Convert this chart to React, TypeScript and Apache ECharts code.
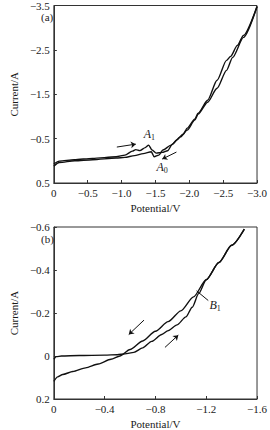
import React, { useEffect, useRef } from "react";
import * as echarts from "echarts";

// Panel (a): potential (V) and current (A)
const potA_fwd = [0, -0.08, -0.3, -0.57, -0.92, -1.05, -1.16, -1.21, -1.27, -1.35, -1.4, -1.45, -1.51, -1.6, -1.68, -1.75, -1.81, -1.91, -1.97, -2.08, -2.13, -2.27, -2.41, -2.55, -2.61, -2.71, -2.8, -3.0];
const curA_fwd = [0.07, 0.006, -0.024, -0.055, -0.091, -0.129, -0.219, -0.253, -0.23, -0.298, -0.354, -0.242, -0.174, -0.19, -0.226, -0.376, -0.466, -0.601, -0.736, -0.938, -1.073, -1.365, -1.815, -2.264, -2.354, -2.601, -2.826, -3.478];
const potA_rev = [0, -0.08, -0.31, -0.57, -0.92, -1.05, -1.19, -1.32, -1.44, -1.48, -1.55, -1.61, -1.73, -1.87, -1.97, -2.08, -2.13, -2.27, -2.41, -2.55, -2.64, -2.8, -3.0];
const curA_rev = [0.12, 0.039, -0.001, -0.024, -0.062, -0.078, -0.118, -0.163, -0.203, -0.091, -0.129, -0.242, -0.354, -0.54, -0.691, -0.916, -1.051, -1.32, -1.635, -2.039, -2.331, -2.781, -3.478];

// Panel (b)
const potB_fwd = [0, -0.02, -0.06, -0.2, -0.4, -0.5, -0.56, -0.63, -0.7, -0.77, -0.85, -0.9, -0.97, -1.04, -1.09, -1.14, -1.2, -1.3, -1.4, -1.5];
const curB_fwd = [0.015, 0.003, 0.0, -0.002, -0.004, -0.006, -0.01, -0.017, -0.038, -0.068, -0.1, -0.118, -0.145, -0.182, -0.227, -0.29, -0.355, -0.435, -0.515, -0.59];
const potB_rev = [0, -0.03, -0.07, -0.15, -0.25, -0.35, -0.45, -0.52, -0.6, -0.7, -0.8, -0.9, -1.0, -1.1, -1.2, -1.3, -1.4, -1.5];
const curB_rev = [0.118, 0.097, 0.086, 0.072, 0.055, 0.037, 0.015, 0.0, -0.03, -0.07, -0.115, -0.16, -0.21, -0.275, -0.355, -0.435, -0.515, -0.59];

// Tick labels
const ticksAx = [0, -0.5, -1.0, -1.5, -2.0, -2.5, -3.0];
const ticksAy = [-3.5, -2.5, -1.5, -0.5, 0.5];
const ticksBx = [0, -0.4, -0.8, -1.2, -1.6];
const ticksBy = [-0.6, -0.4, -0.2, 0, 0.2];

const FONT = "'Liberation Serif', 'Times New Roman', serif";
const TXT = "#1a1a1a";

const zip = (xs: number[], ys: number[]) => xs.map((x, i) => [x, ys[i]]);
const fmt = (v: number) => {
  if (Math.abs(v) < 1e-9) return "0";
  return (v < 0 ? "\u2212" : "") + Math.abs(v).toFixed(1);
};

const subRich = {
  a: { fontFamily: FONT, fontSize: 12, fontStyle: "italic", color: TXT },
  s: { fontFamily: FONT, fontSize: 8, color: TXT, padding: [7, 0, 0, 0] },
};

function xAxis(gridIndex: number, min: number, ticks: number[]) {
  return {
    type: "value",
    gridIndex,
    min,
    max: 0,
    inverse: true,
    name: "Potential/V",
    nameLocation: "middle",
    nameGap: 19,
    nameTextStyle: { fontFamily: FONT, fontSize: 11, color: TXT },
    axisLine: { show: true, onZero: false, lineStyle: { color: "#333", width: 1 } },
    axisTick: { show: true, inside: true, length: 3, customValues: ticks, lineStyle: { color: "#333" } },
    axisLabel: { customValues: ticks, formatter: fmt, fontFamily: FONT, fontSize: 11, color: TXT, margin: 4 },
    splitLine: { show: false },
  };
}

function yAxis(gridIndex: number, min: number, max: number, ticks: number[]) {
  return {
    type: "value",
    gridIndex,
    min,
    max,
    inverse: true,
    name: "Current/A",
    nameLocation: "middle",
    nameGap: 28,
    nameTextStyle: { fontFamily: FONT, fontSize: 11, color: TXT },
    axisLine: { show: true, onZero: false, lineStyle: { color: "#333", width: 1 } },
    axisTick: { show: true, inside: true, length: 3, customValues: ticks, lineStyle: { color: "#333" } },
    axisLabel: { customValues: ticks, formatter: fmt, fontFamily: FONT, fontSize: 11, color: TXT, margin: 4 },
    splitLine: { show: false },
  };
}

const lineBase = {
  type: "line",
  showSymbol: false,
  symbol: "none",
  smooth: 0.25,
  smoothMonotone: "x",
  lineStyle: { color: "#111", width: 1.4 },
  silent: true,
};

const arrowML = (segs: number[][][], symbols: string[]) => ({
  silent: true,
  symbol: symbols,
  symbolSize: 5,
  label: { show: false },
  lineStyle: { color: "#111", width: 1, type: "solid" },
  data: segs.map((s) => [{ coord: s[0] }, { coord: s[1] }]),
});

const labelMP = (items: { coord: number[]; text: string }[]) => ({
  silent: true,
  symbol: "circle",
  symbolSize: 1,
  itemStyle: { color: "rgba(0,0,0,0)" },
  label: {
    show: true,
    position: "inside",
    formatter: (p: any) => p.name,
    rich: subRich,
  },
  data: items.map((it) => ({ coord: it.coord, name: it.text })),
});

export default function App() {
  const ref = useRef<HTMLDivElement>(null);
  useEffect(() => {
    if (!ref.current) return;
    const chart = echarts.init(ref.current, null, { renderer: "svg" });
    chart.setOption({
      animation: false,
      backgroundColor: "#fff",
      title: [
        { text: "(a)", left: 41, top: 11, padding: 0, textStyle: { fontFamily: FONT, fontSize: 11, fontWeight: "normal", color: TXT } },
        { text: "(b)", left: 41, top: 233, padding: 0, textStyle: { fontFamily: FONT, fontSize: 11, fontWeight: "normal", color: TXT } },
      ],
      grid: [
        { left: 37, right: 8, top: 4, bottom: 247, show: true, borderColor: "#333", borderWidth: 1, containLabel: false },
        { left: 37, right: 8, top: 227, bottom: 25, show: true, borderColor: "#333", borderWidth: 1, containLabel: false },
      ],
      xAxis: [xAxis(0, -3, ticksAx), xAxis(1, -1.6, ticksBx)],
      yAxis: [yAxis(0, -3.5, 0.5, ticksAy), yAxis(1, -0.6, 0.2, ticksBy)],
      series: [
        {
          ...lineBase,
          name: "a-forward",
          xAxisIndex: 0,
          yAxisIndex: 0,
          data: zip(potA_fwd, curA_fwd),
          markLine: arrowML(
            [
              [[-0.93, -0.31], [-1.21, -0.376]],
              [[-1.81, -0.197], [-1.6, -0.039]],
            ],
            ["none", "arrow"]
          ),
          markPoint: labelMP([
            { coord: [-1.41, -0.6], text: "{a|A}{s|1}" },
            { coord: [-1.6, 0.15], text: "{a|A}{s|0}" },
          ]),
        },
        {
          ...lineBase,
          name: "a-reverse",
          xAxisIndex: 0,
          yAxisIndex: 0,
          data: zip(potA_rev, curA_rev),
        },
        {
          ...lineBase,
          name: "b-forward",
          xAxisIndex: 1,
          yAxisIndex: 1,
          data: zip(potB_fwd, curB_fwd),
          markLine: {
            silent: true,
            symbol: ["none", "arrow"],
            symbolSize: 5,
            label: { show: false },
            lineStyle: { color: "#111", width: 1, type: "solid" },
            data: [
              [{ coord: [-0.71, -0.167] }, { coord: [-0.59, -0.1] }],
              [{ coord: [-0.875, -0.04] }, { coord: [-0.98, -0.097] }],
              [{ coord: [-1.216, -0.258], symbol: "none" }, { coord: [-1.124, -0.303], symbol: "none" }],
            ],
          },
          markPoint: labelMP([{ coord: [-1.27, -0.236], text: "{a|B}{s|1}" }]),
        },
        {
          ...lineBase,
          name: "b-reverse",
          xAxisIndex: 1,
          yAxisIndex: 1,
          data: zip(potB_rev, curB_rev),
        },
      ],
    });
    return () => chart.dispose();
  }, []);
  return <div ref={ref} style={{ position: "fixed", left: 0, top: 0, width: 270, height: 430 }} />;
}
